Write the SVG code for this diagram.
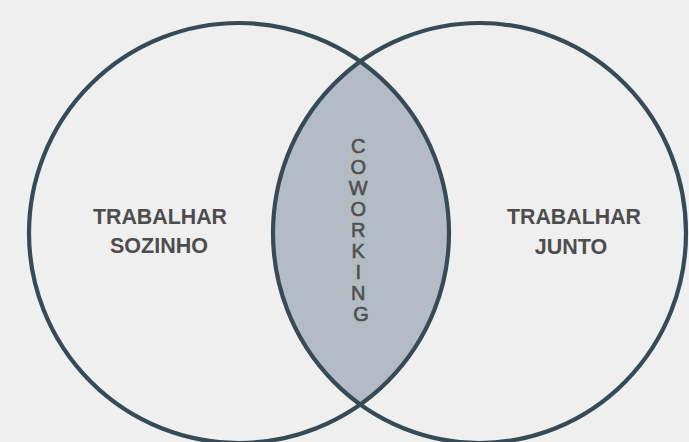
<svg xmlns="http://www.w3.org/2000/svg" width="689" height="442" viewBox="0 0 689 442">
  <defs>
    <clipPath id="clipLeft">
      <ellipse cx="239" cy="233" rx="210" ry="210"/>
    </clipPath>
    <style>
      .ring { fill: none; stroke: #374b57; stroke-width: 4.2; }
      .label { font-family: "Liberation Sans", Arial, sans-serif; font-weight: bold; font-size: 21.5px; fill: #4d4d4d; text-anchor: middle; }
      .vert { font-family: "Liberation Sans", Arial, sans-serif; font-size: 20px; fill: #505050; stroke: #505050; stroke-width: 0.6; text-anchor: middle; }
    </style>
  </defs>
  <rect x="0" y="0" width="689" height="442" fill="#efefef"/>
  <g id="overlap">
    <ellipse cx="479.5" cy="233" rx="206.5" ry="210" fill="#b3bcc4" clip-path="url(#clipLeft)"/>
  </g>
  <g id="left-circle">
    <ellipse class="ring" cx="239" cy="233" rx="210" ry="210"/>
    <text class="label" x="160" y="224" textLength="134" lengthAdjust="spacingAndGlyphs">TRABALHAR</text>
    <text class="label" x="159" y="253">SOZINHO</text>
  </g>
  <g id="right-circle">
    <ellipse class="ring" cx="479.5" cy="233" rx="206.5" ry="210"/>
    <text class="label" x="574" y="224" textLength="134" lengthAdjust="spacingAndGlyphs">TRABALHAR</text>
    <text class="label" x="571" y="254">JUNTO</text>
  </g>
  <g id="coworking">
    <text class="vert">
      <tspan x="361" y="153">C</tspan>
      <tspan x="361" y="174">O</tspan>
      <tspan x="361" y="195">W</tspan>
      <tspan x="361" y="216">O</tspan>
      <tspan x="361" y="237">R</tspan>
      <tspan x="361" y="258">K</tspan>
      <tspan x="361" y="279">I</tspan>
      <tspan x="361" y="300">N</tspan>
      <tspan x="361" y="321">G</tspan>
    </text>
  </g>
</svg>
